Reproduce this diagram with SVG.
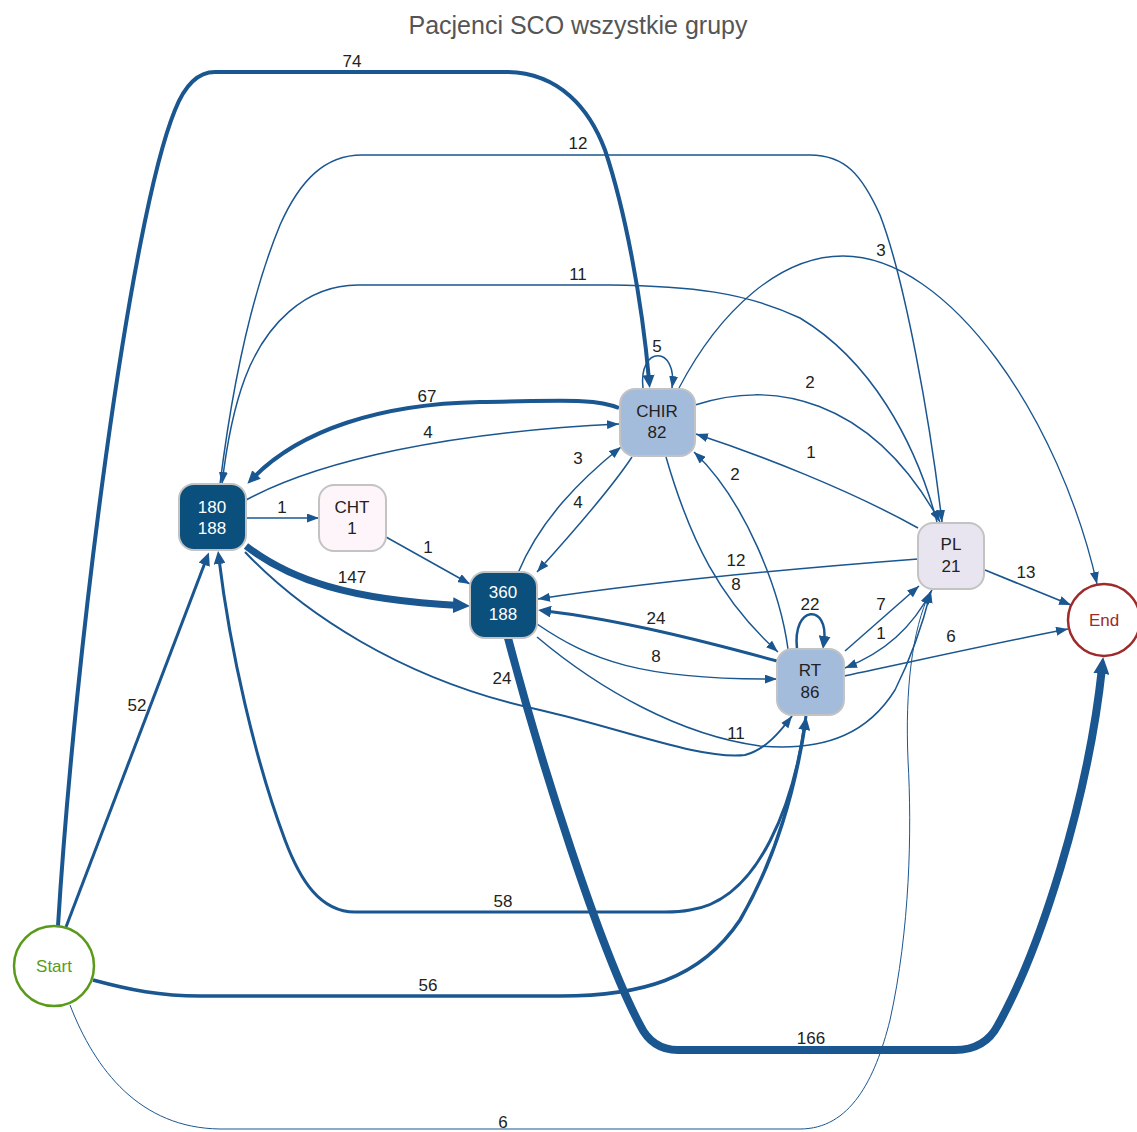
<svg xmlns="http://www.w3.org/2000/svg" width="1137" height="1132" viewBox="0 0 1137 1132">
<style>
.e{fill:none;stroke:#1a5690;stroke-width:1.5}
.el{font-family:"Liberation Sans",Arial,sans-serif;font-size:17px;fill:#222;text-anchor:middle}
.nt{font-family:"Liberation Sans",Arial,sans-serif;font-size:17px;text-anchor:middle;fill:#222}
.dark rect{fill:#0b4f7d}
.dark text{fill:#fff}
.box{stroke:#c3c3c3;stroke-width:2}
</style>
<defs>
<marker id="aS" markerUnits="userSpaceOnUse" markerWidth="12" markerHeight="9" viewBox="0 0 12 9" refX="12" refY="4.5" orient="auto"><path d="M0,0 L12,4.5 L0,9 z" fill="#1a5690"/></marker>
<marker id="aM" markerUnits="userSpaceOnUse" markerWidth="13" markerHeight="12" viewBox="0 0 13 12" refX="5" refY="6" orient="auto"><path d="M0,0 L13,6 L0,12 z" fill="#1a5690"/></marker>
<marker id="aL" markerUnits="userSpaceOnUse" markerWidth="17" markerHeight="16" viewBox="0 0 17 16" refX="6" refY="8" orient="auto"><path d="M0,0 L17,8 L0,16 z" fill="#1a5690"/></marker>
</defs>
<rect width="1137" height="1132" fill="#fff"/>
<text x="578" y="34" font-family="'Liberation Sans',Arial,sans-serif" font-size="25" fill="#555" text-anchor="middle">Pacjenci SCO wszystkie grupy</text>
<g id="connectors">
<path class="e" style="stroke-width:4" marker-end="url(#aM)" d="M58,926 C75,650 130,220 175,110 Q190,72 215,72 L505,72 C560,72 590,110 605,150 C625,210 642,300 649,380"/>
<path class="e" style="stroke-width:3" marker-end="url(#aM)" d="M66,927 L206,560"/>
<path class="e" marker-end="url(#aS)" d="M220,484 C228,420 245,310 280,225 C300,180 325,155 362,155 L810,155 C845,155 862,175 880,215 C905,280 930,420 942,522"/>
<path class="e" marker-end="url(#aS)" d="M937,522 C915,440 870,360 800,318 C745,292 690,286 610,285 L358,285 C305,285 265,325 245,378 C233,410 226,450 222,484"/>
<path class="e" style="stroke-width:1.3" marker-end="url(#aS)" d="M679,388 C720,310 780,256 843,256 C950,256 1060,420 1097,584"/>
<path class="e" marker-end="url(#aS)" d="M643,388 C638,345 678,345 672,388"/>
<path class="e" marker-end="url(#aS)" d="M695,405 C770,380 870,395 940,522"/>
<path class="e" marker-end="url(#aS)" d="M918,528 C850,490 760,455 696,434"/>
<path class="e" marker-end="url(#aS)" d="M788,649 C780,590 745,500 694,452"/>
<path class="e" style="stroke-width:4" marker-end="url(#aM)" d="M619,408 C595,398 560,401 480,402 C380,404 300,430 253,478"/>
<path class="e" marker-end="url(#aS)" d="M246,500 C320,460 450,432 619,424"/>
<path class="e" marker-end="url(#aS)" d="M518,573 C540,520 580,480 621,447"/>
<path class="e" marker-end="url(#aS)" d="M632,457 C610,490 575,530 537,572"/>
<path class="e" marker-end="url(#aS)" d="M666,457 C690,540 720,600 778,652"/>
<path class="e" marker-end="url(#aS)" d="M918,559 C800,568 650,582 538,599"/>
<path class="e" marker-end="url(#aS)" d="M246,518 L319,518"/>
<path class="e" marker-end="url(#aS)" d="M386,537 L470,584"/>
<path class="e" style="stroke-width:7" marker-end="url(#aL)" d="M246,546 C290,580 350,600 459,605.5"/>
<path class="e" style="stroke-width:3" marker-end="url(#aM)" d="M777,661 C700,640 620,620 546,611"/>
<path class="e" marker-end="url(#aS)" d="M537,624 C590,660 640,680 777,679"/>
<path class="e" style="stroke-width:2" marker-end="url(#aS)" d="M245,552 C300,610 400,680 540,710 C620,728 700,760 745,755 C765,750 780,732 792,716"/>
<path class="e" marker-end="url(#aS)" d="M537,637 C600,690 680,735 760,746 C830,752 870,730 895,690 C915,650 925,615 931,591"/>
<path class="e" style="stroke-width:2.5" marker-end="url(#aM)" d="M797,649 C792,604 829,604 824,641"/>
<path class="e" marker-end="url(#aS)" d="M845,651 L919,586"/>
<path class="e" marker-end="url(#aS)" d="M932,590 C912,628 885,652 845,668"/>
<path class="e" marker-end="url(#aS)" d="M844,676 C920,660 1000,642 1068,629"/>
<path class="e" style="stroke-width:1.8" marker-end="url(#aS)" d="M985,570 L1071,605"/>
<path class="e" style="stroke-width:8" marker-end="url(#aL)" d="M508,638 C540,760 600,950 640,1025 Q652,1050 678,1050 L955,1050 Q985,1050 998,1025 C1040,950 1088,800 1102,668"/>
<path class="e" style="stroke-width:3" marker-end="url(#aM)" d="M806,716 C795,800 760,900 690,910 Q680,912 665,912 L355,912 C320,912 300,880 285,840 C255,760 230,650 219,559"/>
<path class="e" style="stroke-width:3.5" marker-end="url(#aM)" d="M93,980 C130,990 160,996 200,996 L560,996 C640,996 700,980 740,920 C775,860 795,790 805,725"/>
<path class="e" style="stroke-width:1" marker-end="url(#aS)" d="M70,1005 C95,1070 140,1128 220,1129 L800,1129 C850,1129 875,1080 890,1020 C910,930 912,830 908,760 C905,690 912,630 930,592"/>
<text class="el" x="352" y="67">74</text>
<text class="el" x="578" y="149">12</text>
<text class="el" x="578" y="280">11</text>
<text class="el" x="881" y="256">3</text>
<text class="el" x="657" y="352">5</text>
<text class="el" x="810" y="388">2</text>
<text class="el" x="427" y="402">67</text>
<text class="el" x="428" y="438">4</text>
<text class="el" x="811" y="458">1</text>
<text class="el" x="578" y="464">3</text>
<text class="el" x="735" y="480">2</text>
<text class="el" x="578" y="508">4</text>
<text class="el" x="282" y="513">1</text>
<text class="el" x="428" y="553">1</text>
<text class="el" x="736" y="566">12</text>
<text class="el" x="736" y="590">8</text>
<text class="el" x="352" y="583">147</text>
<text class="el" x="1026" y="578">13</text>
<text class="el" x="881" y="610">7</text>
<text class="el" x="810" y="610">22</text>
<text class="el" x="656" y="624">24</text>
<text class="el" x="881" y="639">1</text>
<text class="el" x="951" y="642">6</text>
<text class="el" x="656" y="662">8</text>
<text class="el" x="502" y="684">24</text>
<text class="el" x="736" y="739">11</text>
<text class="el" x="137" y="711">52</text>
<text class="el" x="503" y="907">58</text>
<text class="el" x="428" y="991">56</text>
<text class="el" x="811" y="1044">166</text>
<text class="el" x="503" y="1128">6</text>
</g>
<g id="node-start"><circle cx="54" cy="966" r="40" fill="#fff" stroke="#5a9a1a" stroke-width="2.5"/><text class="nt" x="54" y="972" style="fill:#5a9a1a">Start</text></g>
<g id="node-end"><circle cx="1104" cy="620" r="36" fill="#fff" stroke="#9e2a2a" stroke-width="2.5"/><text class="nt" x="1104" y="626" style="fill:#9e2a2a">End</text></g>
<g id="node-180" class="dark"><rect class="box" x="179" y="484" width="67" height="66" rx="15"/><text class="nt" x="212" y="513">180</text><text class="nt" x="212" y="534">188</text></g>
<g id="node-cht"><rect class="box" x="319" y="485" width="67" height="66" rx="15" fill="#fdf5f9"/><text class="nt" x="352" y="513">CHT</text><text class="nt" x="352" y="534">1</text></g>
<g id="node-360" class="dark"><rect class="box" x="470" y="572" width="67" height="66" rx="15"/><text class="nt" x="503" y="598">360</text><text class="nt" x="503" y="620">188</text></g>
<g id="node-chir"><rect class="box" x="620" y="389" width="75" height="67" rx="15" fill="#a4bcdc"/><text class="nt" x="657" y="417">CHIR</text><text class="nt" x="657" y="438">82</text></g>
<g id="node-pl"><rect class="box" x="918" y="523" width="66" height="66" rx="15" fill="#e9e5f0"/><text class="nt" x="951" y="550">PL</text><text class="nt" x="951" y="572">21</text></g>
<g id="node-rt"><rect class="box" x="777" y="649" width="67" height="66" rx="15" fill="#a4bcdc"/><text class="nt" x="810" y="676">RT</text><text class="nt" x="810" y="698">86</text></g>
</svg>
